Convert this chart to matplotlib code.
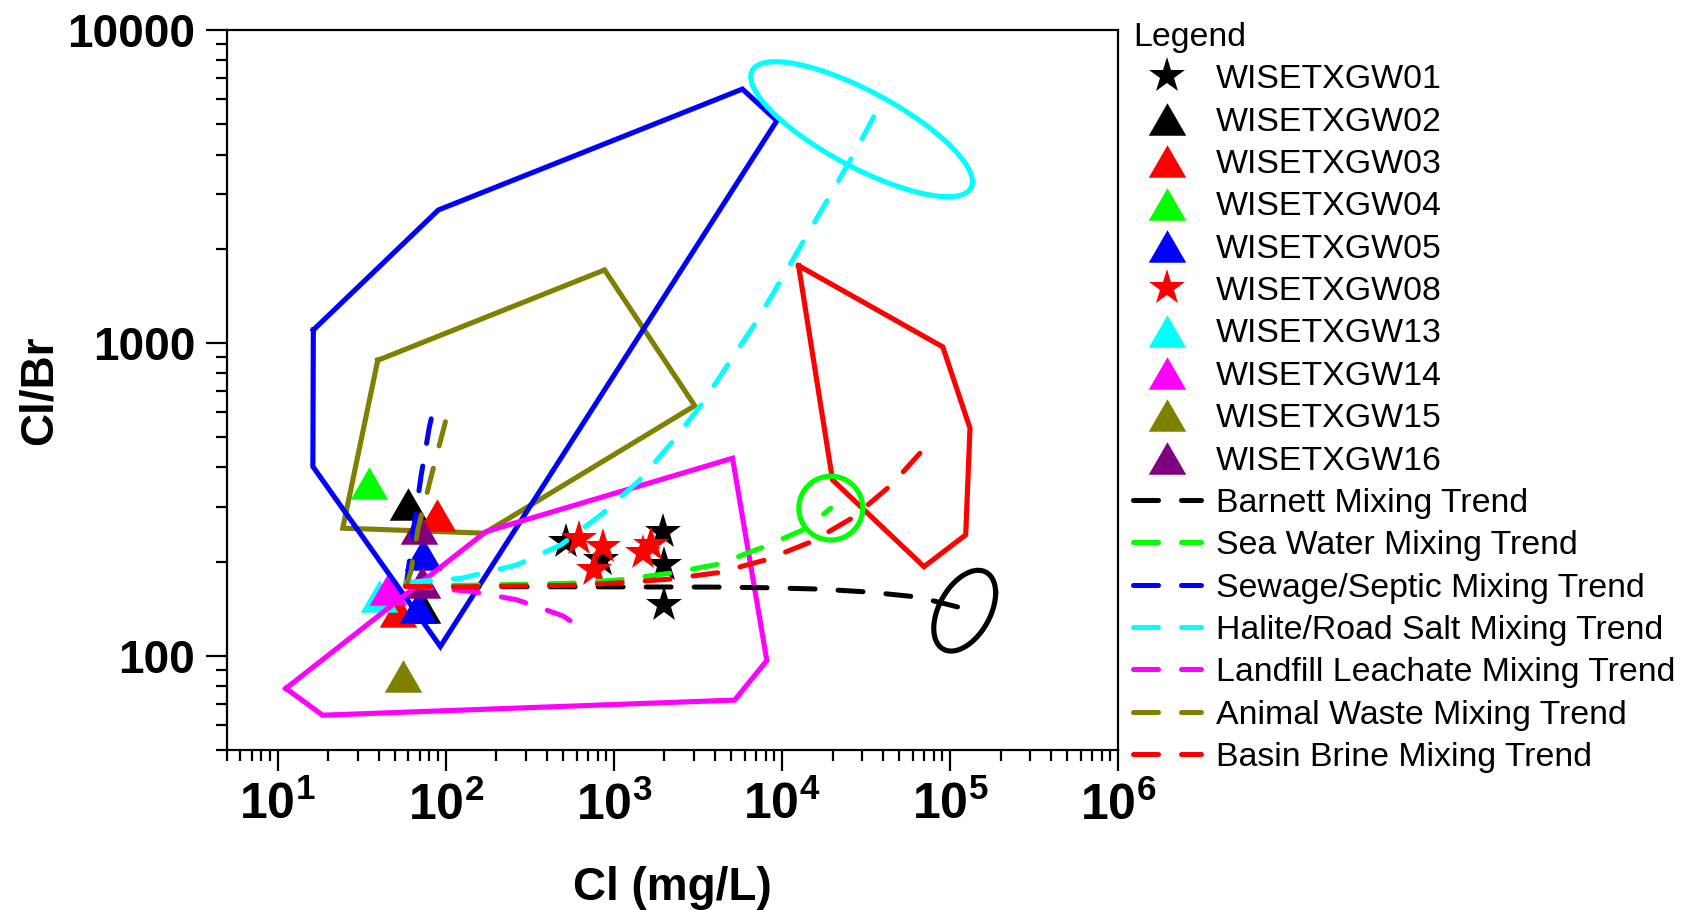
import numpy as np
import matplotlib
matplotlib.use("Agg")
import matplotlib.pyplot as plt
from matplotlib.path import Path
from matplotlib import font_manager

FONT = "Liberation Sans"
_names = {f.name for f in font_manager.fontManager.ttflist}
NARROW = "Liberation Sans Narrow" if "Liberation Sans Narrow" in _names else FONT

plt.rcParams["font.family"] = [FONT, "DejaVu Sans"]
plt.rcParams["mathtext.fontset"] = "custom"
plt.rcParams["mathtext.rm"] = NARROW + ":bold"
plt.rcParams["mathtext.bf"] = NARROW + ":bold"

# ---------------- sample points (Cl in mg/L, Cl/Br mass ratio) ----------------
gw01_cl = [1950, 1994, 1994, 519, 838]
gw01_ratio = [249.5, 195.3, 145.0, 230.5, 202.6]
gw02_cl = [59.9, 72.0]
gw02_ratio = [305.9, 143.7]
gw03_cl = [88.8, 52.3]
gw03_ratio = [282.0, 139.5]
gw04_cl = [35.1]
gw04_ratio = [357.0]
gw05_cl = [73.0, 68.7]
gw05_ratio = [211.8, 143.4]
gw08_cl = [623, 858, 765, 1483, 1662]
gw08_ratio = [236.8, 222.0, 188.3, 213.0, 226.0]
gw13_cl = [40.3]
gw13_ratio = [155.5]
gw14_cl = [45.2]
gw14_ratio = [163.7]
gw15_cl = [55.5]
gw15_ratio = [86.3]
gw16_cl = [69.7, 72.0]
gw16_ratio = [257.0, 172.8]

# ---------------- end-member fields ----------------
sewage_field_cl = [16.3, 90.4, 5820, 9330, 92.9, 16.2]
sewage_field_ratio = [1100, 2660, 6475, 5130, 107.1, 402.6]
animal_field_cl = [39.4, 881, 3030, 169.6, 24.4]
animal_field_ratio = [880, 1711, 630, 246.6, 255.9]
landfill_field_cl = [11.2, 173.6, 5085, 8130, 5234, 18.5]
landfill_field_ratio = [78.7, 249.5, 428, 96.6, 72.2, 64.6]
brine_field_cl = [12560, 90600, 131500, 124000, 70050, 20000]
brine_field_ratio = [1766, 971, 534, 243.6, 192.7, 365]

# ellipse end members: centre (Cl, Cl/Br)
halite_centre = [29800, 4820]
seawater_centre = [19530, 296.5]
barnett_centre = [122300, 139.4]

# ---------------- mixing trends ----------------
barnett_cl = [58.1, 123, 4217, 8356, 16870, 33320, 65160, 129700]
barnett_ratio = [166.9, 166.5, 165.8, 165.0, 163.4, 159.8, 154.0, 140.3]
seawater_cl = [57.5, 123.3, 272.8, 540.8, 1072, 2127, 4159, 7914, 14200, 19530]
seawater_ratio = [168.3, 168.0, 169.2, 170.5, 174.9, 183.5, 196.1, 223.5, 256.4, 296.5]
sewage_cl = [58.1, 65.1, 71.3, 79.9, 83.6]
sewage_ratio = [167.3, 266.0, 375.8, 539.0, 597.6]
halite_cl = [57.5, 123.3, 265.4, 484.8, 838, 1410, 2215, 3373, 4900, 7161,
             10190, 14350, 20210, 28470, 37690]
halite_ratio = [171.8, 176.9, 195.3, 226.2, 282.2, 362.4, 481, 641.8, 871.8, 1184,
                1637, 2246, 3083, 4261, 5675]
landfill_cl = [58.1, 141.4, 265.4, 498, 571]
landfill_ratio = [167.3, 160.7, 151.0, 134.2, 127.8]
animal_cl = [58.1, 62.2, 68.2, 81.8, 99.9]
animal_ratio = [167.3, 186.9, 252.7, 373.2, 564.0]
brine_cl = [57.5, 123.3, 272.8, 540.8, 1072, 2127, 4217, 8025, 15060, 26280, 44890, 73380]
brine_ratio = [166.7, 166.1, 167.3, 168.0, 171.1, 175.8, 184.6, 202.6, 231.9, 276.0,
               351.9, 472.2]

OLIVE = "#808000"
PURPLE = "#800080"
GREEN = "#00FF00"
CYAN = "#00FFFF"
MAGENTA = "#FF00FF"
RED = "#FF0000"
BLUE = "#0000FF"

# equilateral-looking triangle marker
TRI = Path([(-1.0, -0.866), (1.0, -0.866), (0.0, 0.866), (-1.0, -0.866)],
           [Path.MOVETO, Path.LINETO, Path.LINETO, Path.CLOSEPOLY])

fig = plt.figure(figsize=(16.92, 9.10), dpi=100)
ax = fig.add_axes([0.1342, 0.1758, 0.6608 - 0.1342, 0.967 - 0.1758])
ax.set_xscale("log")
ax.set_yscale("log")
ax.set_xlim(5, 1e6)
ax.set_ylim(50, 10000)

POLY_LW = 3.7


def closed(xs, ys):
    return list(xs) + [xs[0]], list(ys) + [ys[0]]


def ellipse(centre, px, py, q, n=240):
    t = np.linspace(0, 2 * np.pi, n)
    lx = np.log10(centre[0]) + px * np.cos(t)
    ly = np.log10(centre[1]) + py * np.cos(t) + q * np.sin(t)
    return 10 ** lx, 10 ** ly


# fields
x, y = closed(animal_field_cl, animal_field_ratio)
ax.plot(x, y, color=OLIVE, lw=POLY_LW, zorder=2, solid_joinstyle="miter")
for xs, ys, c in [(sewage_field_cl, sewage_field_ratio, BLUE),
                  (landfill_field_cl, landfill_field_ratio, MAGENTA),
                  (brine_field_cl, brine_field_ratio, RED)]:
    x, y = closed(xs, ys)
    ax.plot(x, y, color=c, lw=POLY_LW, zorder=4, solid_joinstyle="miter")

ex, ey = ellipse(halite_centre, 0.6593, -0.1677, 0.1357)
ax.plot(ex, ey, color=CYAN, lw=POLY_LW, zorder=4)
ex, ey = ellipse(seawater_centre, 0.19, 0.0, 0.102)
ax.plot(ex, ey, color=GREEN, lw=POLY_LW, zorder=4)
ex, ey = ellipse(barnett_centre, 0.184, 0.0566, 0.116)
ax.plot(ex, ey, color="black", lw=POLY_LW, zorder=4)

# samples
STAR_MS = 27
TRI_MS = 27
samples = [
    ("WISETXGW01", gw01_cl, gw01_ratio, "*", "black", STAR_MS),
    ("WISETXGW02", gw02_cl, gw02_ratio, TRI, "black", TRI_MS),
    ("WISETXGW03", gw03_cl, gw03_ratio, TRI, RED, TRI_MS),
    ("WISETXGW04", gw04_cl, gw04_ratio, TRI, GREEN, TRI_MS),
    ("WISETXGW05", gw05_cl, gw05_ratio, TRI, BLUE, TRI_MS),
    ("WISETXGW08", gw08_cl, gw08_ratio, "*", RED, STAR_MS),
    ("WISETXGW13", gw13_cl, gw13_ratio, TRI, CYAN, TRI_MS),
    ("WISETXGW14", gw14_cl, gw14_ratio, TRI, MAGENTA, TRI_MS),
    ("WISETXGW15", gw15_cl, gw15_ratio, TRI, OLIVE, TRI_MS),
    ("WISETXGW16", gw16_cl, gw16_ratio, TRI, PURPLE, TRI_MS),
]
handles = []
for name, xs, ys, m, c, ms in samples:
    h, = ax.plot(xs, ys, ls="none", marker=m, color=c, markersize=ms,
                 markeredgewidth=0, zorder=3, label=name)
    handles.append(h)

# mixing trends
DASH = (0, (5.0, 4.6))
trends = [
    ("Barnett Mixing Trend", barnett_cl, barnett_ratio, "black"),
    ("Sea Water Mixing Trend", seawater_cl, seawater_ratio, GREEN),
    ("Sewage/Septic Mixing Trend", sewage_cl, sewage_ratio, BLUE),
    ("Halite/Road Salt Mixing Trend", halite_cl, halite_ratio, CYAN),
    ("Landfill Leachate Mixing Trend", landfill_cl, landfill_ratio, MAGENTA),
    ("Animal Waste Mixing Trend", animal_cl, animal_ratio, OLIVE),
    ("Basin Brine Mixing Trend", brine_cl, brine_ratio, RED),
]
for name, xs, ys, c in trends:
    h, = ax.plot(xs, ys, ls=DASH, color=c, lw=3.6, zorder=5, label=name,
                 dash_capstyle="round")
    handles.append(h)

# axes styling
for s in ax.spines.values():
    s.set_linewidth(1.6)
ax.tick_params(which="both", direction="out", top=False, right=False, width=1.6)
ax.tick_params(which="major", length=15, pad=8)
ax.tick_params(which="minor", length=8)
ax.set_yticks([100, 1000, 10000])
ax.set_yticklabels(["100", "1000", "10000"])
ax.yaxis.set_minor_formatter(matplotlib.ticker.NullFormatter())
ax.xaxis.set_major_locator(matplotlib.ticker.LogLocator(base=10, numticks=10))
ax.xaxis.set_minor_locator(matplotlib.ticker.LogLocator(base=10, subs=np.arange(2, 10), numticks=20))
ax.xaxis.set_minor_formatter(matplotlib.ticker.NullFormatter())
for lab in ax.get_yticklabels():
    lab.set_fontweight("bold")
    lab.set_fontsize(33)
for lab in ax.get_xticklabels():
    lab.set_family(NARROW)
    lab.set_fontweight("bold")
    lab.set_fontsize(36)
ax.tick_params(axis="x", pad=8)

ax.set_xlabel("Cl (mg/L)", fontsize=33, fontweight="bold", labelpad=26)
ax.set_ylabel("Cl/Br", fontsize=33, fontweight="bold", labelpad=4)

leg = fig.legend(handles=handles, loc="upper left",
                 bbox_to_anchor=(1133 / 1692, 1 - 22 / 910),
                 frameon=False, title="Legend", alignment="left",
                 prop={"family": FONT, "size": 24.4},
                 title_fontproperties={"family": FONT, "size": 24.4},
                 handlelength=2.0, handletextpad=0.45, labelspacing=0.335,
                 borderpad=0, borderaxespad=0)

fig.savefig("out.png", dpi=100)
